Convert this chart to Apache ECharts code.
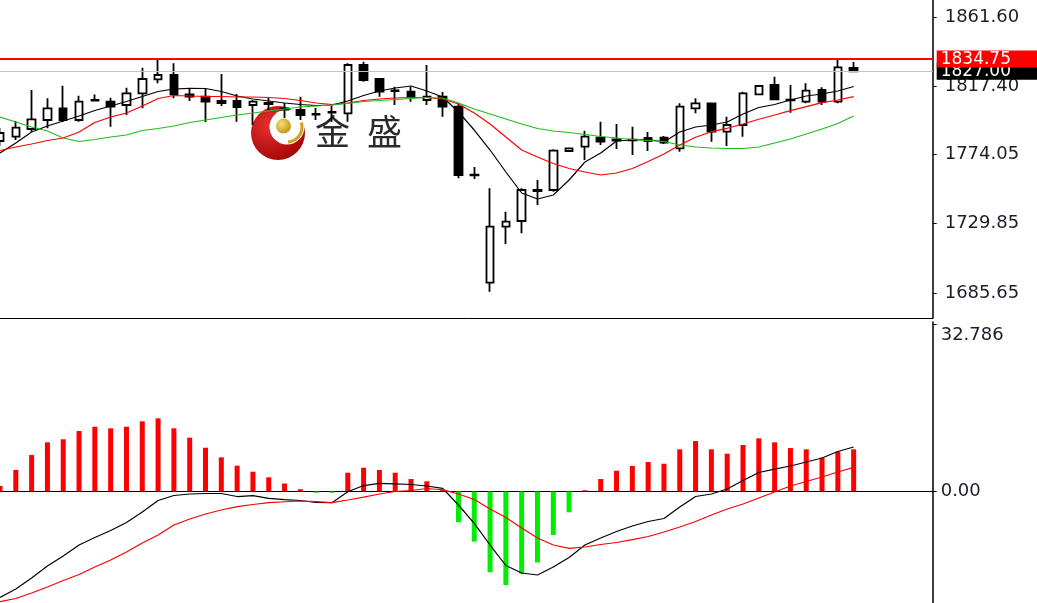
<!DOCTYPE html>
<html><head><meta charset="utf-8">
<script src="https://cdn.jsdelivr.net/npm/echarts@6/dist/echarts.min.js"></script>
<style>html,body{margin:0;padding:0;background:#fff;}#c{width:1037px;height:603px;}</style>
</head><body><div id="c"></div>
<script>
const categories = ['1','2','3','4','5','6','7','8','9','10','11','12','13','14','15','16','17','18','19','20',
  '21','22','23','24','25','26','27','28','29','30','31','32','33','34','35','36','37','38','39','40',
  '41','42','43','44','45','46','47','48','49','50','51','52','53','54','55','56','57','58','59','60'];

// [open, close, low, high]
const candles = [
  [1782.55,1787.65,1779.36,1790.84],[1785.29,1791.03,1783.19,1795.30],[1790.20,1796.39,1788.48,1815.06],
  [1795.94,1803.40,1790.65,1809.77],[1803.40,1795.94,1794.66,1817.81],[1795.94,1807.61,1794.86,1811.43],
  [1808.69,1808.37,1808.05,1812.20],[1807.61,1804.42,1791.67,1810.16],[1805.50,1812.96,1799.13,1816.53],
  [1812.96,1822.08,1803.40,1829.28],[1821.89,1824.63,1819.34,1834.19],[1824.63,1812.32,1809.77,1832.09],
  [1812.32,1810.79,1808.05,1816.15],[1810.79,1807.61,1794.66,1816.15],[1808.05,1806.78,1804.86,1825.26],
  [1808.05,1804.23,1794.86,1812.51],[1805.50,1807.61,1792.75,1808.69],[1806.78,1806.14,1802.31,1809.96],
  [1803.27,1802.63,1797.21,1806.78],[1802.31,1799.13,1795.94,1810.79],[1799.76,1799.32,1795.94,1803.59],
  [1801.04,1800.59,1794.66,1804.86],[1800.21,1831.00,1794.86,1832.09],[1831.00,1821.44,1820.36,1833.11],
  [1822.08,1813.98,1810.79,1822.08],[1814.75,1814.30,1805.50,1817.17],[1813.98,1810.79,1807.61,1817.17],
  [1808.69,1810.79,1805.50,1831.00],[1810.79,1804.42,1798.04,1813.79],[1804.42,1760.88,1758.77,1806.78],
  [1761.07,1760.69,1758.33,1765.98],[1692.22,1727.92,1686.48,1752.40],[1727.92,1731.11,1716.89,1737.48],
  [1731.55,1751.31,1723.71,1752.40],[1751.31,1750.68,1741.75,1757.69],[1751.31,1776.37,1750.23,1777.26],
  [1776.18,1777.90,1775.86,1778.41],[1778.92,1785.29,1770.44,1789.12],[1784.66,1782.11,1780.00,1794.86],
  [1783.51,1782.87,1777.45,1793.39],[1783.38,1783.00,1773.63,1791.67],[1784.46,1782.55,1776.18,1788.29],
  [1784.66,1781.47,1780.64,1785.74],[1777.90,1804.42,1775.73,1806.59],[1803.40,1806.59,1800.21,1809.77],
  [1806.59,1788.48,1782.11,1806.97],[1788.48,1792.75,1779.36,1798.04],[1792.75,1812.96,1785.29,1813.98],
  [1812.32,1817.61,1812.20,1817.93],[1818.25,1809.14,1808.69,1823.54],[1808.88,1808.50,1800.59,1818.25],
  [1807.61,1814.62,1806.59,1819.34],[1815.06,1807.61,1805.50,1816.79],[1807.61,1829.54,1806.59,1834.19],
  [1829.09,1827.00,1826.86,1832.91]
];

const ma5 = [1774.90,1781.28,1788.29,1792.11,1795.30,1798.49,1802.00,1804.86,1807.73,1810.92,
  1814.11,1815.70,1816.15,1816.02,1814.11,1811.24,1809.33,1808.05,1806.78,1805.82,
  1805.18,1805.50,1808.05,1811.56,1814.43,1816.34,1817.61,1814.43,1810.60,1801.04,
  1789.56,1776.81,1762.79,1749.40,1745.58,1748.13,1757.69,1769.16,1774.90,1782.55,
  1783.19,1783.51,1781.91,1788.29,1791.48,1792.75,1794.66,1799.76,1803.91,1805.82,
  1808.69,1811.24,1812.51,1814.43,1817.30];

const ma10 = [1776.50,1778.73,1780.64,1782.87,1784.46,1788.29,1794.35,1797.85,1800.40,1804.86,
  1809.65,1811.56,1811.24,1810.92,1810.92,1810.60,1810.60,1810.28,1809.65,1808.37,
  1806.78,1805.82,1806.78,1808.37,1809.33,1809.96,1810.28,1810.28,1809.33,1806.14,
  1800.40,1793.39,1785.10,1776.81,1772.35,1768.21,1765.02,1762.79,1760.88,1762.15,
  1765.02,1769.48,1774.26,1780.00,1784.91,1788.48,1790.65,1793.39,1796.39,1799.13,
  1801.87,1804.42,1806.97,1808.69,1810.79];

const ma20 = [1797.85,1794.66,1791.48,1788.93,1784.46,1782.23,1783.51,1785.10,1786.38,1789.25,
  1790.52,1792.11,1794.35,1795.94,1797.53,1799.13,1800.40,1801.68,1802.95,1804.23,
  1804.86,1805.50,1806.46,1807.73,1808.37,1809.01,1809.65,1810.28,1809.96,1806.78,
  1802.95,1799.76,1796.58,1793.39,1790.52,1788.93,1787.97,1786.70,1785.42,1784.46,
  1783.51,1782.87,1782.23,1780.00,1778.73,1778.09,1777.77,1777.77,1778.73,1781.28,
  1783.83,1787.01,1790.20,1793.71,1798.49];

const macdHist = [1.08,4.21,7.14,9.63,10.22,11.84,12.68,12.37,12.68,13.74,
  14.33,12.37,10.53,8.57,6.69,5.05,3.88,2.78,1.57,0.45,
  -0.25,-0.25,3.68,4.66,4.21,3.68,2.45,2.00,0.30,-6.00,
  -9.80,-15.80,-18.30,-16.10,-13.90,-8.50,-4.07,0.25,2.45,4.07,
  4.99,5.77,5.44,8.26,9.88,8.26,7.40,9.10,10.41,9.63,
  8.51,8.26,6.62,7.79,8.26];

const macdLine = [-20.75,-19.08,-16.93,-14.58,-12.62,-10.47,-9.00,-7.63,-6.07,-4.01,
  -1.76,-0.78,-0.49,-0.39,-0.39,-0.98,-0.82,-1.33,-1.57,-1.76,
  -2.15,-2.19,-0.04,1.17,1.61,1.51,1.37,1.08,0.63,-2.64,
  -6.22,-10.47,-14.48,-15.95,-16.34,-14.78,-12.92,-10.47,-9.10,-7.83,
  -6.75,-5.87,-5.28,-3.03,-0.98,-0.49,0.49,2.15,3.72,4.40,
  4.99,5.77,6.56,7.83,8.71];

const signalLine = [-21.57,-20.94,-19.87,-18.69,-17.42,-16.25,-14.78,-13.41,-11.84,-10.08,
  -8.51,-6.56,-5.38,-4.40,-3.62,-2.94,-2.54,-2.19,-2.00,-1.86,
  -1.96,-2.19,-1.66,-1.08,-0.49,0.00,0.20,0.59,0.35,-0.49,
  -1.57,-3.43,-5.09,-7.14,-9.10,-10.47,-11.12,-10.86,-10.37,-9.98,
  -9.40,-8.81,-7.93,-6.95,-5.87,-4.60,-3.43,-2.45,-1.27,-0.10,
  1.08,1.96,2.84,3.82,4.74];

const priceTicks = [1861.60, 1817.40, 1774.05, 1729.85, 1685.65];
const macdTicks = [32.786, 0];
const macdTickLabels = ['32.786', '0.00'];
const resistanceLevel = 1834.75;
const bidLevel = 1827.00;
const resistanceLabel = '1834.75';
const bidLabel = '1827.00';
const logoChars = ['金', '盛'];

const FONT = 'DejaVu Sans';
const LABEL_SIZE = 18;
const chart = echarts.init(document.getElementById('c'), null, {renderer: 'canvas'});

const gridLeft = -1.84, gridRight = 104.3;
const option = {
  animation: false,
  backgroundColor: '#ffffff',
  grid: [
    {left: gridLeft, right: gridRight, top: 0, height: 318},
    {left: gridLeft, right: gridRight, top: 322, height: 281}
  ],
  xAxis: [
    {type: 'category', gridIndex: 0, data: categories, boundaryGap: false, position: 'bottom',
     axisLine: {show: true, lineStyle: {color: '#000', width: 1}}, axisTick: {show: false},
     axisLabel: {show: false}, splitLine: {show: false}},
    {type: 'category', gridIndex: 1, data: categories, boundaryGap: false, position: 'top',
     axisLine: {show: true, lineStyle: {color: '#000', width: 1}}, axisTick: {show: false},
     axisLabel: {show: false}, splitLine: {show: false}}
  ],
  yAxis: [
    {type: 'value', gridIndex: 0, position: 'right', min: 1669.71, max: 1872.44,
     axisLine: {show: true, lineStyle: {color: '#000', width: 1.5}},
     axisTick: {show: true, inside: false, length: 4, customValues: priceTicks, lineStyle: {color: '#000'}},
     axisLabel: {show: true, customValues: priceTicks, margin: 12, color: '#1c1c2a',
       fontFamily: FONT, fontSize: LABEL_SIZE, formatter: v => v.toFixed(2)},
     splitLine: {show: false}},
    {type: 'value', gridIndex: 1, position: 'right', min: -21.82, max: 33.18,
     axisLine: {show: true, lineStyle: {color: '#000', width: 1.5}},
     axisTick: {show: true, inside: false, length: 4, customValues: macdTicks, lineStyle: {color: '#000'}},
     axisLabel: {show: true, customValues: macdTicks, margin: 8, color: '#1c1c2a',
       fontFamily: FONT, fontSize: LABEL_SIZE,
       formatter: v => {
         const i = macdTicks.findIndex(t => Math.abs(t - v) < 1e-6);
         const s = i >= 0 ? macdTickLabels[i] : String(v);
         return i === 0 ? '{t|' + s + '}' : s;
       },
       rich: {t: {padding: [22, 0, 0, 0], fontFamily: FONT, fontSize: LABEL_SIZE, color: '#1c1c2a'}}},
     splitLine: {show: false}}
  ],
  graphic: [
    {type: 'circle', z: 0, shape: {cx: 278, cy: 133, r: 27},
     style: {fill: new echarts.graphic.RadialGradient(0.35, 0.35, 0.8, [
       {offset: 0, color: '#e83030'}, {offset: 1, color: '#9a0000'}])}},
    {type: 'circle', z: 0, shape: {cx: 287, cy: 127, r: 17.5}, style: {fill: '#ffffff'}},
    {type: 'arc', z: 0, shape: {cx: 287, cy: 127, r: 15, startAngle: -0.3, endAngle: 1.5},
     style: {stroke: '#d4a020', lineWidth: 3, fill: null}},
    {type: 'circle', z: 0, shape: {cx: 283.5, cy: 126, r: 7.5},
     style: {fill: new echarts.graphic.RadialGradient(0.35, 0.35, 0.8, [
       {offset: 0, color: '#f4e070'}, {offset: 1, color: '#b88a10'}])}},
    {type: 'text', z: 0, left: 315, top: 114,
     style: {text: logoChars[0], fontFamily: 'Noto Sans CJK SC', fontSize: 35, fill: '#2a2a2a'}},
    {type: 'text', z: 0, left: 367, top: 114,
     style: {text: logoChars[1], fontFamily: 'Noto Sans CJK SC', fontSize: 35, fill: '#2a2a2a'}}
  ],
  series: [
    {type: 'candlestick', xAxisIndex: 0, yAxisIndex: 0, data: candles, barWidth: 8,
     itemStyle: {color: '#ffffff', color0: '#000000', borderColor: '#000000', borderColor0: '#000000', borderWidth: 1.8},
     markLine: {silent: true, symbol: ['none', 'none'], animation: false,
       data: [
         {yAxis: bidLevel, lineStyle: {color: '#c4c4c4', width: 1, type: 'solid'},
          label: {show: true, position: 'end', formatter: bidLabel, color: '#fff', backgroundColor: '#000',
            fontFamily: FONT, fontSize: 17, padding: [0, 40, 0, 4], distance: 4}},
         {yAxis: resistanceLevel, lineStyle: {color: '#ff0000', width: 2, type: 'solid'},
          label: {show: true, position: 'end', formatter: resistanceLabel, color: '#fff', backgroundColor: '#ff0000',
            fontFamily: FONT, fontSize: 17, padding: [0, 40, 0, 4], distance: 4}}
       ]}},
    {type: 'line', xAxisIndex: 0, yAxisIndex: 0, data: ma5, symbol: 'none', lineStyle: {color: '#000', width: 1.2}},
    {type: 'line', xAxisIndex: 0, yAxisIndex: 0, data: ma10, symbol: 'none', lineStyle: {color: '#ff0000', width: 1.2}},
    {type: 'line', xAxisIndex: 0, yAxisIndex: 0, data: ma20, symbol: 'none', lineStyle: {color: '#22bb22', width: 1.2}},
    {type: 'bar', xAxisIndex: 1, yAxisIndex: 1, data: macdHist, barWidth: 5,
     itemStyle: {color: p => (p.value >= 0 ? '#ff0000' : '#00ee00')}},
    {type: 'line', xAxisIndex: 1, yAxisIndex: 1, data: macdLine, symbol: 'none', lineStyle: {color: '#000', width: 1.2}},
    {type: 'line', xAxisIndex: 1, yAxisIndex: 1, data: signalLine, symbol: 'none', lineStyle: {color: '#ff0000', width: 1.2}}
  ]
};
chart.setOption(option);
</script>
</body></html>
